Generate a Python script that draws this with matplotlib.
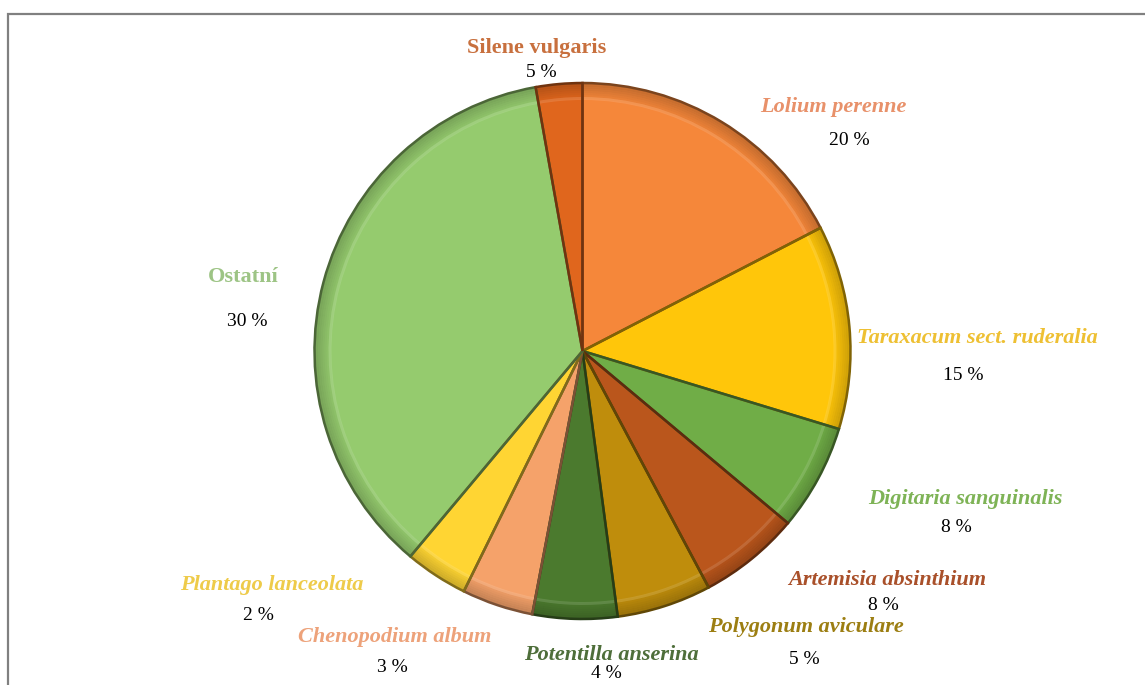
import matplotlib
matplotlib.use("Agg")
import matplotlib.pyplot as plt
from matplotlib.patches import Wedge
from matplotlib.colors import to_rgb
import numpy as np

# data, clockwise from 12 o'clock
species = ["Lolium perenne", "Taraxacum sect. ruderalia", "Digitaria sanguinalis",
           "Artemisia absinthium", "Polygonum aviculare", "Potentilla anserina",
           "Chenopodium album", "Plantago lanceolata", "Ostatní", "Silene vulgaris"]
shares = [17.4, 12.3, 6.4, 6.1, 5.7, 5.1, 4.3, 3.8, 36.1, 2.8]   # slice sizes as drawn
pct_labels = ["20 %", "15 %", "8 %", "8 %", "5 %", "4 %", "3 %", "2 %", "30 %", "5 %"]
italic = [True, True, True, True, True, True, True, True, False, False]

slice_colors = ["#F5873A", "#FFC60A", "#70AD47", "#BA561C", "#BF8D0C",
                "#4B7A2E", "#F5A26A", "#FFD533", "#95CB6E", "#E0661D"]
text_colors = ["#E8916A", "#EEC033", "#7EB356", "#A9502A", "#9C7E12",
               "#4E6E3A", "#EDA27A", "#EECB4A", "#9DC485", "#C8703E"]

# label layout (pixel coords from top-left)
name_pos = [(833, 107), (977, 338), (965, 499), (887, 580), (806, 627),
            (611, 655), (395, 637), (272, 585), (243, 277), (537, 48)]
pct_pos = [(849, 140), (963, 375), (956, 528), (883, 605), (804, 659),
           (606, 674), (392, 668), (258, 615), (247, 321), (541, 72)]

W, H = 1145, 685
CX, CY, R = 582.5, H - 351, 268

plt.rcParams["font.family"] = ["Liberation Serif", "DejaVu Serif"]

fig = plt.figure(figsize=(W / 100, H / 100), dpi=100)
ax = fig.add_axes([0, 0, 1, 1])

def shade(c, f):
    r, g, b = to_rgb(c)
    return (r * f, g * f, b * f)

def tint(c, f):
    r, g, b = to_rgb(c)
    return (r + (1 - r) * f, g + (1 - g) * f, b + (1 - b) * f)

wedges, _ = ax.pie(shares, colors=slice_colors, startangle=90, counterclock=False,
                   center=(CX, CY), radius=R, frame=True,
                   wedgeprops=dict(linewidth=0))

# bevel look: darker rim + light inner highlight + dark seams
for w, c in zip(wedges, slice_colors):
    t1, t2 = w.theta1, w.theta2
    steps = 8
    for k in range(steps):
        rr = R - k * 2.0
        ax.add_patch(Wedge((CX, CY), rr, t1, t2, width=2.0,
                           facecolor=shade(c, 0.55), alpha=0.45 * (1 - k / steps),
                           linewidth=0, zorder=3))
    ax.add_patch(Wedge((CX, CY), R - 14, t1, t2, width=3,
                       facecolor=tint(c, 0.35), alpha=0.35, linewidth=0, zorder=3))
    ax.add_patch(Wedge((CX, CY), R, t1, t2, facecolor="none",
                       edgecolor=shade(c, 0.5), linewidth=1.8, zorder=4))

for i in range(len(species)):
    style = "italic" if italic[i] else "normal"
    nx, ny = name_pos[i]
    ax.text(nx, H - ny, species[i], color=text_colors[i], fontsize=16,
            fontweight="bold", fontstyle=style, ha="center", va="center")
    px, py = pct_pos[i]
    ax.text(px, H - py, pct_labels[i], color="black", fontsize=14,
            ha="center", va="center")

# chart border (cropped on right and bottom)
ax.plot([8, 8, W + 10], [-10, H - 14, H - 14], color="#808080", linewidth=1.6,
        solid_joinstyle="miter", zorder=1)

ax.set_xlim(0, W)
ax.set_ylim(0, H)
ax.set_aspect("equal")
ax.axis("off")

fig.savefig("out.png", dpi=100)
